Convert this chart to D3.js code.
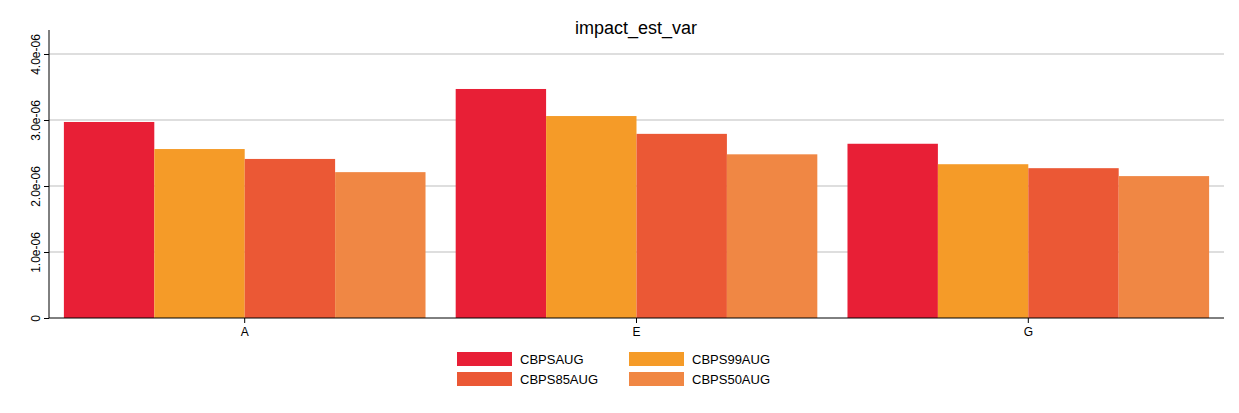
<!DOCTYPE html>
<html><head><meta charset="utf-8">
<script src="https://cdn.jsdelivr.net/npm/d3@7"></script>
<style>body{margin:0;background:#fff;font-family:Arial,"Liberation Sans",sans-serif}</style>
</head><body>
<svg id="c" width="1239" height="413"></svg>
<script>
const categories = ["A","E","G"];
const seriesNames = ["CBPSAUG","CBPS99AUG","CBPS85AUG","CBPS50AUG"];
const CBPSAUG   = [2.97e-6, 3.47e-6, 2.64e-6];
const CBPS99AUG = [2.56e-6, 3.06e-6, 2.33e-6];
const CBPS85AUG = [2.41e-6, 2.79e-6, 2.27e-6];
const CBPS50AUG = [2.21e-6, 2.48e-6, 2.15e-6];
const seriesValues = [CBPSAUG, CBPS99AUG, CBPS85AUG, CBPS50AUG];
const tickValues = [0, 1e-6, 2e-6, 3e-6, 4e-6];
const tickLabels = ["0","1.0e-06","2.0e-06","3.0e-06","4.0e-06"];
const colors = ["#e81f36","#f59b28","#eb5835","#f08744"];

const svg = d3.select("#c");
const L=49, R=1224, T=20, B=318;
const y = d3.scaleLinear().domain([0,4.5e-6]).range([B, B-66*4.5]);
const x0 = d3.scaleBand().domain(categories).range([L,R]).paddingInner(0.077).paddingOuter(0.038);
const x1 = d3.scaleBand().domain(seriesNames).range([0,x0.bandwidth()]);

svg.append("g").selectAll("line").data(tickValues.slice(1)).join("line")
  .attr("x1",L).attr("x2",R).attr("y1",d=>y(d)).attr("y2",d=>y(d))
  .attr("stroke","#bdbdbd").attr("stroke-width",1);

categories.forEach((c,i)=>{
  svg.append("g").selectAll("rect").data(seriesNames).join("rect")
    .attr("x",s=>x0(c)+x1(s)).attr("width",x1.bandwidth())
    .attr("y",(s,j)=>y(seriesValues[j][i])).attr("height",(s,j)=>B-y(seriesValues[j][i]))
    .attr("fill",(s,j)=>colors[j]);
});

const ya = svg.append("g").attr("transform",`translate(${L},0)`)
  .call(d3.axisLeft(y).tickValues(tickValues).tickFormat((d,i)=>tickLabels[i]).tickSize(5));
ya.select(".domain").attr("d",`M0,${T+10}V${B}`);
ya.selectAll("text").attr("transform","rotate(-90)").attr("text-anchor","middle")
  .attr("x",0).attr("y",-9).attr("dy",0).attr("font-size",12).attr("fill","#000")
  .style("font-family","Arial,'Liberation Sans',sans-serif");

const xa = svg.append("g").attr("transform",`translate(0,${B})`)
  .call(d3.axisBottom(x0).tickSize(5).tickSizeOuter(0));
xa.select(".domain").attr("d",`M${L},0H${R}`);
xa.selectAll("text").attr("font-size",12).attr("y",9).attr("fill","#000")
  .style("font-family","Arial,'Liberation Sans',sans-serif");

svg.append("text").attr("x",636).attr("y",34).attr("text-anchor","middle")
  .attr("font-size",18).text("impact_est_var");

const lg = svg.append("g");
seriesNames.forEach((s,i)=>{
  const cx = i%2===0 ? 457 : 629, cy = i<2 ? 352 : 372;
  lg.append("rect").attr("x",cx).attr("y",cy).attr("width",55).attr("height",14).attr("fill",colors[i]);
  lg.append("text").attr("x",cx+63).attr("y",cy+12).attr("font-size",13).text(s);
});
</script>
</body></html>
